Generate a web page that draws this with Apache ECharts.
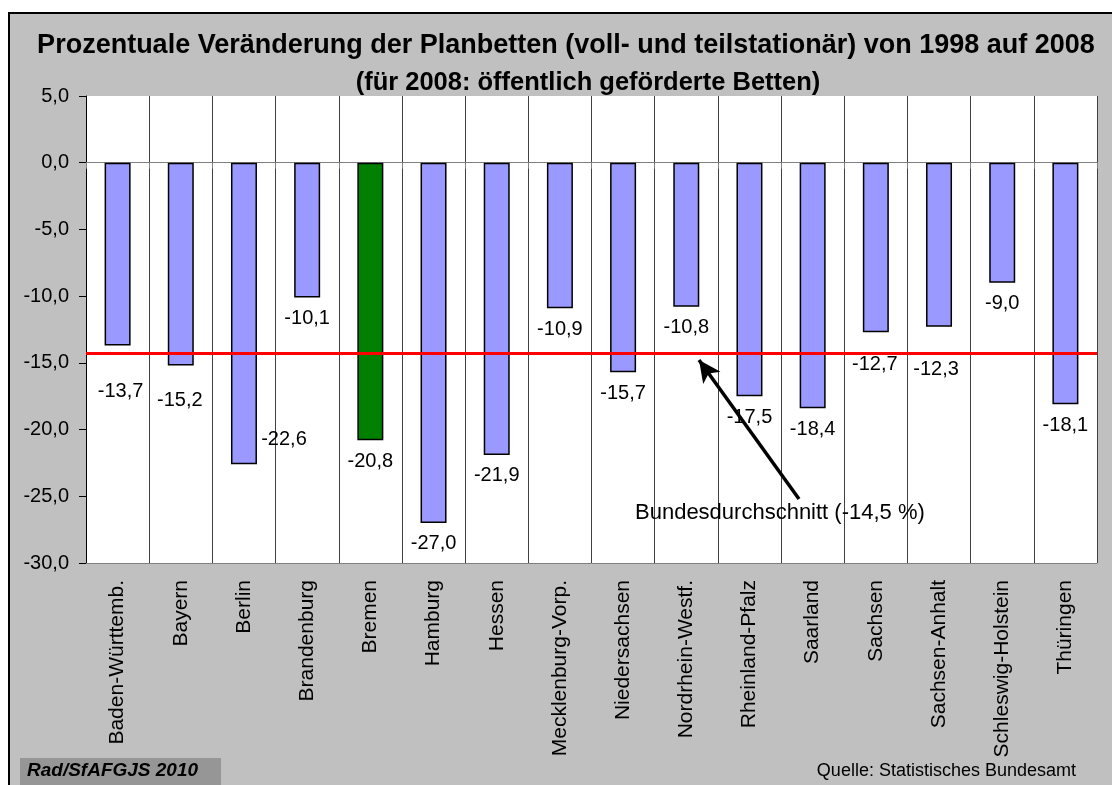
<!DOCTYPE html>
<html>
<head>
<meta charset="utf-8">
<script src="https://cdn.jsdelivr.net/npm/echarts@6/dist/echarts.min.js"></script>
<style>
  html, body { margin: 0; padding: 0; background: #fff; }
  #chart { width: 1112px; height: 785px; }
</style>
</head>
<body>
<div id="chart"></div>
<script>
// Bundeslaender und prozentuale Veraenderung 1998 -> 2008
var states = ['Baden-Württemb.', 'Bayern', 'Berlin', 'Brandenburg', 'Bremen', 'Hamburg',
  'Hessen', 'Mecklenburg-Vorp.', 'Niedersachsen', 'Nordrhein-Westf.', 'Rheinland-Pfalz',
  'Saarland', 'Sachsen', 'Sachsen-Anhalt', 'Schleswig-Holstein', 'Thüringen'];
var changes = [-13.7, -15.2, -22.6, -10.1, -20.8, -27.0, -21.9, -10.9, -15.7, -10.8,
  -17.5, -18.4, -12.7, -12.3, -9.0, -18.1];
var highlightState = 'Bremen';
var averageLine = -14.3;   // rote Linie, wie im Bild gezeichnet
var yTicks = { min: -30, max: 5, step: 5 };

// manuell verschobene Beschriftungen (wie im Original)
var labelShift = {
  'Baden-Württemb.': [3, 25],
  'Bayern': [-1, 14],
  'Berlin': [40, -46],
  'Sachsen': [-1, 11],
  'Sachsen-Anhalt': [-3, 22]
};

function fmt(v) {
  return v.toFixed(1).replace('.', ',');
}

var barData = [];
for (var i = 0; i < states.length; i++) {
  var item = {
    value: changes[i],
    itemStyle: { color: states[i] === highlightState ? '#008000' : '#9999ff' }
  };
  if (labelShift[states[i]]) {
    item.label = { offset: labelShift[states[i]] };
  }
  barData.push(item);
}

var myChart = echarts.init(document.getElementById('chart'));
var option = {
  animation: false,
  backgroundColor: 'transparent',
  textStyle: { fontFamily: 'Liberation Sans, Arial, sans-serif' },
  title: [{
    text: 'Prozentuale Veränderung der Planbetten (voll- und teilstationär) von 1998 auf 2008',
    left: 561,
    top: 27,
    textAlign: 'center',
    textStyle: { fontSize: 27, fontWeight: 'bold', color: '#000' }
  }, {
    text: '(für 2008: öffentlich geförderte Betten)',
    left: 583,
    top: 65,
    textAlign: 'center',
    textStyle: { fontSize: 25.5, fontWeight: 'bold', color: '#000' }
  }],
  graphic: [{
    type: 'rect',
    z: -10,
    shape: { x: 9, y: 13, width: 1200, height: 900 },
    style: { fill: '#c0c0c0', stroke: '#000', lineWidth: 2 }
  }, {
    type: 'rect',
    shape: { x: 20, y: 758, width: 201, height: 30 },
    style: { fill: '#969696' }
  }, {
    type: 'text',
    x: 27, y: 771,
    style: {
      text: 'Rad/SfAFGJS 2010', fill: '#000',
      font: 'italic bold 19px Liberation Sans, Arial, sans-serif',
      textVerticalAlign: 'middle'
    }
  }, {
    type: 'text',
    x: 1076, y: 771,
    style: {
      text: 'Quelle: Statistisches Bundesamt', fill: '#000',
      font: '18px Liberation Sans, Arial, sans-serif',
      textAlign: 'right', textVerticalAlign: 'middle'
    }
  }, {
    type: 'text',
    x: 635, y: 513, z: 10,
    style: {
      text: 'Bundesdurchschnitt (-14,5 %)', fill: '#000',
      font: '22px Liberation Sans, Arial, sans-serif',
      textVerticalAlign: 'middle'
    }
  }],
  grid: {
    left: 86, right: 15, top: 96, bottom: 222,
    show: true, backgroundColor: '#fff', borderWidth: 0
  },
  xAxis: [{
    type: 'category',
    data: states,
    position: 'bottom',
    axisLine: { onZero: false, lineStyle: { color: '#808080', width: 1 } },
    axisTick: { show: false },
    axisLabel: { rotate: 90, fontSize: 21, color: '#000', margin: 17, interval: 0 },
    splitLine: { show: true, interval: 0, lineStyle: { color: '#404040', width: 1 } }
  }, {
    type: 'category',
    data: states,
    position: 'bottom',
    axisLine: { onZero: true, lineStyle: { color: '#808080', width: 1 } },
    axisTick: { show: true, length: 6, interval: 0, lineStyle: { color: '#808080' } },
    axisLabel: { show: false },
    splitLine: { show: false }
  }],
  yAxis: {
    type: 'value',
    min: yTicks.min,
    max: yTicks.max,
    interval: yTicks.step,
    axisLine: { show: true, lineStyle: { color: '#000', width: 1 } },
    axisTick: { show: true, length: 7, lineStyle: { color: '#000' } },
    axisLabel: { fontSize: 20, color: '#000', margin: 17, formatter: fmt },
    splitLine: { show: false }
  },
  series: [{
    name: 'Veränderung',
    type: 'bar',
    xAxisIndex: 0,
    barWidth: 26,
    data: barData,
    itemStyle: { borderColor: '#000', borderWidth: 1.5 },
    label: {
      show: true,
      position: 'bottom',
      distance: 11,
      fontSize: 20,
      color: '#000',
      formatter: function (p) { return fmt(p.value); }
    },
    markLine: {
      silent: true,
      symbol: ['none', 'none'],
      label: { show: false },
      data: [
        { yAxis: averageLine, lineStyle: { color: '#ff0000', width: 3, type: 'solid' } },
        [
          { x: 799, y: 499, lineStyle: { color: '#000', width: 3.5, type: 'solid' } },
          { x: 699, y: 360, symbol: 'arrow', symbolSize: [16, 22] }
        ]
      ]
    }
  }]
};
myChart.setOption(option);
</script>
</body>
</html>
